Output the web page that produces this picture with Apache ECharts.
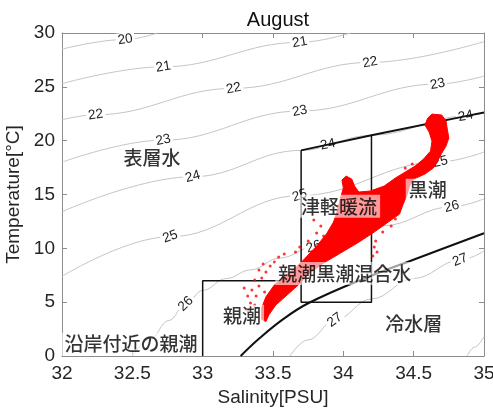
<!DOCTYPE html>
<html><head><meta charset="utf-8">
<script src="https://cdn.jsdelivr.net/npm/echarts@6/dist/echarts.min.js"></script>
<style>html,body{margin:0;padding:0;background:#fff}#chart{width:493px;height:412px}</style>
</head><body><div id="chart"></div>
<script>
// Axis ranges
const salinityRange = [32, 35];
const temperatureRange = [0, 30];

// sigma-t isopycnals as [salinity, temperature] points
const sigma20 = [[32.0,28.5],[32.45,29.4],[32.68,30.0]];
const sigma21 = [[32.0,25.3],[32.72,26.86],[33.69,29.13],[34.05,30.0]];
const sigma22 = [[32.0,21.95],[32.24,22.4],[33.22,24.86],[34.19,27.27],[35.0,29.2]];
const sigma23 = [[32.0,18.0],[32.72,20.05],[33.69,22.75],[34.67,25.26],[35.0,26.0]];
const sigma24 = [[32.0,13.4],[32.93,16.65],[33.7,19.1],[34.2,20.5],[34.87,22.28],[35.0,22.62]];
const sigma25 = [[32.0,7.4],[32.77,11.08],[33.69,14.9],[34.69,18.04],[35.0,18.95]];
const sigma26 = [[32.5,0],[32.62,1.5],[32.76,3.3],[32.88,4.85],[33.0,6.1],[33.17,7.2],[33.34,8.0],[33.55,9.1],[33.79,10.15],[34.28,12.1],[34.77,13.86],[35.0,14.6]];
const sigma27 = [[33.62,0],[33.75,1.5],[33.94,3.34],[34.2,5.3],[34.5,7.2],[34.83,8.91],[35.0,9.75]];
const sigma28 = [[34.88,0],[34.93,0.8],[35.0,1.8]];

// inline contour labels: [salinity, temperature, level]
const contourLabels = [
  [32.45,29.4,20],
  [32.72,26.86,21],[33.69,29.13,21],
  [32.24,22.4,22],[33.22,24.86,22],[34.19,27.27,22],
  [32.72,20.05,23],[33.69,22.75,23],[34.67,25.26,23],
  [32.93,16.65,24],[33.89,19.63,24],[34.87,22.28,24],
  [32.77,11.08,25],[33.69,14.9,25],[34.69,18.04,25],
  [32.88,4.85,26],[33.79,10.15,26],[34.77,13.86,26],
  [33.94,3.34,27],[34.83,8.91,27]
];

// water-mass boundaries
const upperBoundaryStart = 33.7;   // sigma 24 boundary drawn from this salinity
const lowerBoundary = [[33.27,0],[33.4,1.6],[33.57,3.4],[33.75,4.9],[34.12,7.05],[34.55,9.2],[35.0,11.4]];
const tsugaruBox = [[33.7,19.1],[33.7,5],[34.2,5],[34.2,20.5]];
const oyashioBox = [[33.0,0],[33.0,7],[33.7,7]];

// observed T-S cloud (outline of the dense core) and isolated observations
const observationCore = [
  [34.60,22.10],[34.63,22.47],[34.70,22.38],[34.73,21.82],[34.74,20.98],[34.75,20.24],[34.73,19.50],
  [34.70,18.85],[34.67,18.11],[34.64,17.46],[34.58,16.90],[34.50,16.43],[34.47,15.78],[34.45,14.86],
  [34.42,13.93],[34.40,13.19],[34.31,12.35],[34.21,11.42],[34.10,10.49],[33.98,9.56],[33.86,8.64],
  [33.75,7.6],[33.68,6.6],[33.60,5.66],[33.52,4.74],[33.47,3.81],[33.45,3.2],
  [33.42,3.4],[33.42,4.5],[33.45,5.5],[33.51,6.6],[33.59,7.5],[33.67,8.3],[33.73,9.1],[33.81,10.21],
  [33.88,11.33],[33.93,12.44],[33.96,13.56],[33.98,14.67],[34.00,15.60],[33.99,16.34],[34.02,16.71],
  [34.06,16.43],[34.08,15.78],[34.11,15.23],[34.19,15.32],[34.29,15.78],[34.37,16.53],[34.44,17.08],
  [34.51,17.64],[34.57,18.29],[34.62,19.03],[34.63,19.96],[34.61,20.80],[34.58,21.45]
];
const observationPoints = [
  [33.295,6.31],[33.32,5.57],[33.34,4.92],[33.35,6.13],[33.37,7.06],[33.38,5.57],[33.40,6.50],[33.40,7.99],
  [33.42,7.24],[33.43,8.54],[33.44,5.94],[33.45,7.80],[33.48,8.36],[33.51,8.73],[33.54,9.19],[33.58,9.47],
  [33.32,4.27],[33.37,4.74],
  [33.79,12.63],[33.84,12.07],[33.81,11.42],[33.75,10.68],[33.69,10.12],[33.66,9.66],[33.86,11.14],
  [34.22,10.12],[34.24,9.66],[34.21,9.28],[34.23,10.68],[34.34,12.07],[34.37,12.72],[34.28,11.51],
  [34.44,17.46],[34.49,17.83]
];

// water-mass names and where they are written
const massNames = ['表層水','津軽暖流','黒潮','親潮黒潮混合水','親潮','冷水層','沿岸付近の親潮'];
const massPositions = [[32.64,18.4],[33.97,13.9],[34.60,15.4],[34.01,7.66],[33.28,3.7],[34.50,2.97],[32.49,1.1]];

const isopycnals = {20:sigma20,21:sigma21,22:sigma22,23:sigma23,24:sigma24,25:sigma25,26:sigma26,27:sigma27,28:sigma28};
const upperBoundary = sigma24.filter(p => p[0] >= upperBoundaryStart);

const numFont = '"Liberation Sans", Arial, sans-serif';
const cjkFont = '"Noto Sans CJK JP", sans-serif';
const frameColor = '#8c8c8c';
const textColor = '#262626';

const chart = echarts.init(document.getElementById('chart'), null, {renderer: 'canvas'});

function frameAxis(extra) {
  return Object.assign({
    type: 'value',
    axisLine: {show: true, onZero: false, lineStyle: {color: frameColor, width: 1}},
    axisTick: {show: true, inside: true, length: 5, lineStyle: {color: frameColor}},
    splitLine: {show: false}
  }, extra);
}

const contourSeries = Object.keys(isopycnals).map(k => ({
  type: 'line', data: isopycnals[k], smooth: 0.4, smoothMonotone: 'x',
  showSymbol: false, symbol: 'none', silent: true, z: 2,
  lineStyle: {color: '#c4c4c4', width: 1}
}));

const blackLine = (data, w) => ({
  type: 'line', data, showSymbol: false, symbol: 'none', silent: true, z: 4,
  smooth: data === lowerBoundary ? 0.4 : false,
  lineStyle: {color: '#111', width: w}
});

chart.setOption({
  animation: false,
  title: {text: 'August', left: 273, top: 5, textAlign: 'center',
    textStyle: {fontFamily: numFont, fontSize: 20, fontWeight: 'normal', color: '#111'}},
  grid: {left: 62, top: 33, right: 9, bottom: 56, containLabel: false, outerBoundsMode: 'none'},
  xAxis: [
    frameAxis({min: salinityRange[0], max: salinityRange[1], interval: 0.5, position: 'bottom',
      name: 'Salinity[PSU]', nameLocation: 'middle', nameGap: 31,
      nameTextStyle: {fontFamily: numFont, fontSize: 19, color: textColor},
      axisLabel: {fontFamily: numFont, fontSize: 19, color: textColor, margin: 8, showMinLabel: true, showMaxLabel: true}}),
    frameAxis({min: salinityRange[0], max: salinityRange[1], interval: 0.5, position: 'top', axisLabel: {show: false}})
  ],
  yAxis: [
    frameAxis({min: temperatureRange[0], max: temperatureRange[1], interval: 5, position: 'left',
      name: 'Temperature[°C]', nameLocation: 'middle', nameGap: 33,
      nameTextStyle: {fontFamily: numFont, fontSize: 19, color: textColor},
      axisLabel: {fontFamily: numFont, fontSize: 19, color: textColor, margin: 7}}),
    frameAxis({min: temperatureRange[0], max: temperatureRange[1], interval: 5, position: 'right', axisLabel: {show: false}})
  ],
  series: [
    ...contourSeries,
    {
      type: 'custom', z: 3, silent: true, data: contourLabels,
      renderItem(params, api) {
        const s = api.value(0), t = api.value(1), lvl = api.value(2);
        const line = isopycnals[lvl];
        let i = 0;
        while (i < line.length - 2 && line[i + 1][0] < s) i++;
        const p0 = api.coord(line[i]), p1 = api.coord(line[i + 1]);
        const ang = Math.atan2(p0[1] - p1[1], p1[0] - p0[0]);
        const c = api.coord([s, t]);
        return {
          type: 'text', x: c[0], y: c[1], rotation: ang,
          style: {text: String(lvl), fill: '#222', font: '13.5px ' + numFont,
            align: 'center', verticalAlign: 'middle', backgroundColor: '#fff', padding: [0, 2]}
        };
      }
    },
    blackLine(upperBoundary, 2),
    blackLine(lowerBoundary, 2),
    blackLine(tsugaruBox, 1.5),
    blackLine(oyashioBox, 1.5),
    {
      type: 'custom', z: 5, silent: true, data: [0],
      renderItem(params, api) {
        return {type: 'polygon', shape: {points: observationCore.map(p => api.coord(p))},
          style: {fill: '#ff0000', stroke: '#ff0000', lineWidth: 1}};
      }
    },
    {
      type: 'scatter', z: 5, silent: true, data: observationPoints, symbolSize: 3,
      itemStyle: {color: '#ff0000'}
    },
    {
      type: 'scatter', z: 6, silent: true, symbolSize: 1,
      itemStyle: {color: 'rgba(0,0,0,0)'},
      data: massNames.map((n, i) => ({name: n, value: massPositions[i]})),
      label: {show: true, position: 'inside', formatter: '{b}', fontFamily: cjkFont, fontSize: 19,
        fontWeight: 500, color: '#000', backgroundColor: 'rgba(255,255,255,0.75)', padding: [2, 3]}
    }
  ]
});
</script></body></html>
